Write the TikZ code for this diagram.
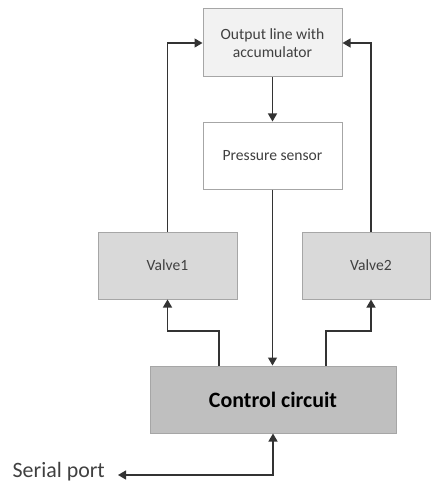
\documentclass[tikz,border=0pt]{standalone}
\usepackage{fontspec}
\setmainfont{Carlito}
\usetikzlibrary{arrows.meta}
\definecolor{boxline}{HTML}{A6A6A6}
\definecolor{wire}{HTML}{333333}
\definecolor{txt}{HTML}{404040}
\begin{document}
\begin{tikzpicture}[x=1pt,y=-1pt,
  blk/.style={draw=boxline,line width=1pt,inner sep=0pt,minimum height=67pt,
    font=\fontsize{15.6}{18}\selectfont,text=txt,align=center},
  wireline/.style={draw=wire,line width=1.3pt},
  arr/.style={wireline,-{Triangle[length=8pt,width=9pt]}},
  darr/.style={wireline,{Triangle[length=8pt,width=9pt]}-{Triangle[length=8pt,width=9pt]}}]
\useasboundingbox (0,0) rectangle (431,484);
\node[blk,fill=black!5,minimum width=139pt,minimum height=68pt] (out) at (272.5,43) {Output line with\\accumulator};
\node[blk,fill=white,minimum width=139pt] (ps) at (272.5,155.5) {Pressure sensor};
\node[blk,fill=black!15,minimum width=139pt] (v1) at (167.5,265.5) {Valve1};
\node[blk,fill=black!15,minimum width=128pt] (v2) at (366,265.5) {};
\node[font=\fontsize{15.6}{18}\selectfont,text=txt,inner sep=0pt] (v2t) at (371,265.5) {Valve2};
\node[blk,fill=black!25,minimum width=246pt,text=black,font=\fontsize{21.9}{24}\selectfont\bfseries] (cc) at (273,399.5) {Control circuit};
\node[anchor=mid east,inner sep=0pt,font=\fontsize{21.9}{24}\selectfont,text=txt] (sp) at (105,475) {Serial port};
\coordinate (spend) at (118,475);
\draw[arr] (out.south) -- (ps.north);
\draw[arr] (ps.south) -- (ps.south |- cc.north);
\draw[arr] (v1.north) -- (v1.north |- out.west) -- (out.west);
\draw[arr] (v1.north -| v2t) -- (v2t |- out.east) -- (out.east);
\draw[arr] ([xshift=-54pt]cc.north) |- (167.5,331) -- (v1.south);
\draw[arr] ([xshift=53pt]cc.north) |- (371,331) -- (v2.south -| v2t);
\draw[darr] (spend) -| (cc.south);
\end{tikzpicture}
\end{document}
